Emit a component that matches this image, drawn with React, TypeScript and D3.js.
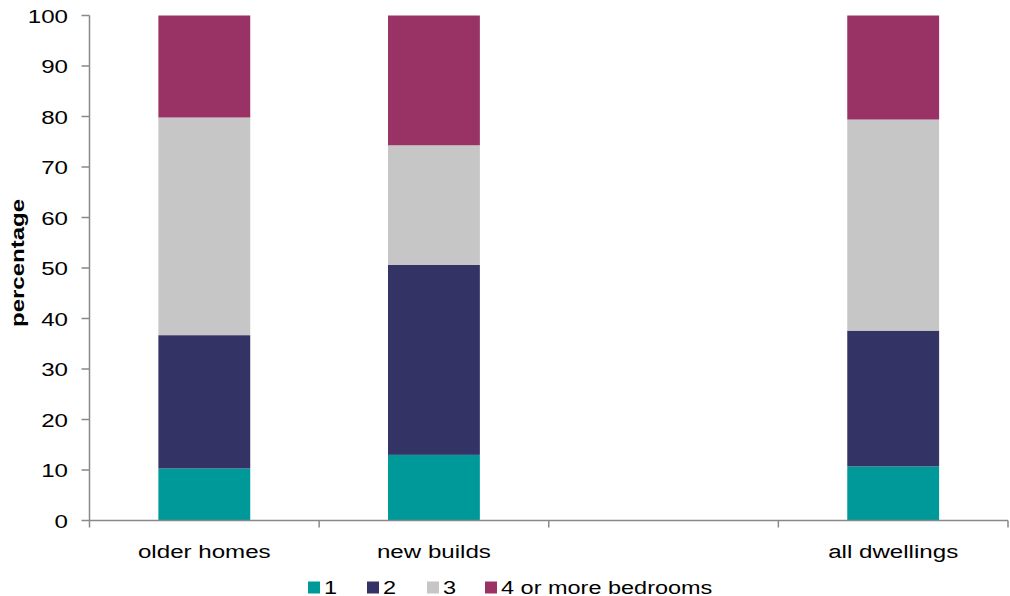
import React from "react";
import * as d3 from "d3";

const categories = ["older homes", "new builds", " ", "all dwellings"];
const seriesNames = ["1", "2", "3", "4 or more bedrooms"];
const seriesColors = ["#009999", "#333366", "#C6C6C6", "#993366"];
const bed1 = [10.3, 13.0, null, 10.7];
const bed2 = [26.4, 37.6, null, 26.9];
const bed3 = [43.1, 23.7, null, 41.8];
const bed4 = [20.2, 25.7, null, 20.6];
const yTicks = [0, 10, 20, 30, 40, 50, 60, 70, 80, 90, 100];

const W = 1010;
const H = 596;
const left = 89.5;
const right = 1008;
const top = 15.5;
const bottom = 520.5;
const SX = 1.27;
const FONT = "'Liberation Sans', Arial, sans-serif";

export default function App() {
  const x = d3
    .scaleBand<string>()
    .domain(categories)
    .range([left, right])
    .paddingInner(0.6)
    .paddingOuter(0.3);
  const step = x.step();
  const y = d3.scaleLinear().domain([0, 100]).range([bottom, top]);

  const rows = categories.map((c, i) => ({
    cat: c,
    s0: bed1[i],
    s1: bed2[i],
    s2: bed3[i],
    s3: bed4[i],
  }));
  const valid = rows.filter((r) => r.s0 !== null);
  const stack = d3.stack<any>().keys(["s0", "s1", "s2", "s3"]);
  const layers = stack(valid);

  const slotEdges = categories.map((c) => (x(c) as number) - (step - x.bandwidth()) / 2);
  slotEdges.push(right);

  const legendSquares = [308, 367, 427, 485];

  return (
    <svg width={W} height={H} style={{ position: "absolute", left: 0, top: 0, background: "#fff" }}>
      {layers.map((layer, li) =>
        layer.map((d, di) => (
          <rect
            key={`${li}-${di}`}
            x={x(d.data.cat)}
            width={x.bandwidth()}
            y={y(d[1])}
            height={y(d[0]) - y(d[1])}
            fill={seriesColors[li]}
          />
        ))
      )}
      {/* y axis */}
      <line x1={left} x2={left} y1={top} y2={bottom} stroke="#898989" strokeWidth={1.5} />
      {yTicks.map((t) => (
        <g key={t}>
          <line x1={left - 8} x2={left} y1={y(t)} y2={y(t)} stroke="#898989" strokeWidth={1.5} />
          <text
            transform={`translate(68,${y(t) + 7}) scale(${SX},1)`}
            textAnchor="end"
            fontFamily={FONT}
            fontSize={19}
            fill="#000"
          >
            {t}
          </text>
        </g>
      ))}
      {/* x axis */}
      <line x1={left} x2={right} y1={bottom} y2={bottom} stroke="#898989" strokeWidth={1.5} />
      {slotEdges.map((e, i) => (
        <line key={i} x1={e} x2={e} y1={bottom} y2={bottom + 7} stroke="#898989" strokeWidth={1.5} />
      ))}
      {categories.map((c) => (
        <text
          key={c}
          transform={`translate(${(x(c) as number) + x.bandwidth() / 2},558) scale(${SX},1)`}
          textAnchor="middle"
          fontFamily={FONT}
          fontSize={19}
          fill="#000"
        >
          {c.trim()}
        </text>
      ))}
      {/* y title */}
      <text
        transform={`translate(24,263) scale(0.75,1) rotate(-90)`}
        textAnchor="middle"
        fontFamily={FONT}
        fontSize={24}
        fontWeight="bold"
        fill="#000"
      >
        percentage
      </text>
      {/* legend */}
      {seriesNames.map((n, i) => (
        <g key={n}>
          <rect x={legendSquares[i]} y={581.5} width={12} height={12} fill={seriesColors[i]} />
          <text
            transform={`translate(${legendSquares[i] + 16},593.5) scale(${SX},1)`}
            fontFamily={FONT}
            fontSize={18.5}
            fill="#000"
          >
            {n}
          </text>
        </g>
      ))}
    </svg>
  );
}
